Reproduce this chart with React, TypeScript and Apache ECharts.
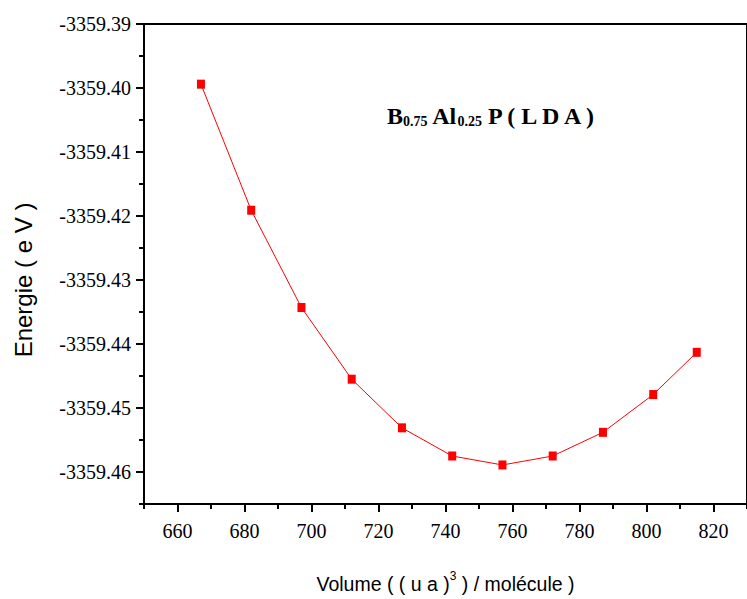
import React, { useEffect, useRef } from 'react';
import * as echarts from 'echarts';

const volumes = [667, 682, 697, 712, 727, 742, 757, 772, 787, 802, 815];
const energies = [
  -3359.3994, -3359.4191, -3359.4343, -3359.4455, -3359.4531, -3359.4575,
  -3359.4589, -3359.4575, -3359.4538, -3359.4479, -3359.4413,
];
const xMajorTicks = [660, 680, 700, 720, 740, 760, 780, 800, 820];
const xMinorTicks = [650, 670, 690, 710, 730, 750, 770, 790, 810, 830];
const yMajorTicks = [-3359.39, -3359.4, -3359.41, -3359.42, -3359.43, -3359.44, -3359.45, -3359.46];
const yMinorTicks = [-3359.395, -3359.405, -3359.415, -3359.425, -3359.435, -3359.445, -3359.455, -3359.465];
const xRange = [650, 830];
const yRange = [-3359.465, -3359.39];
const yTitle = 'Energie ( e V )';

const SERIF = 'Liberation Serif';
const SANS = 'Liberation Sans';

export default function App() {
  const ref = useRef<HTMLDivElement>(null);
  useEffect(() => {
    document.body.style.margin = '0';
    const chart = echarts.init(ref.current!, undefined, { renderer: 'svg' });
    const baseX = {
      type: 'value' as const,
      min: xRange[0],
      max: xRange[1],
      position: 'bottom' as const,
      splitLine: { show: false },
    };
    const baseY = {
      type: 'value' as const,
      min: yRange[0],
      max: yRange[1],
      position: 'left' as const,
      splitLine: { show: false },
    };
    const tickRich = {
      t: { fontFamily: SERIF, fontSize: 20, color: '#000' },
    };
    chart.setOption({
      animation: false,
      backgroundColor: '#fff',
      textStyle: { fontFamily: SERIF },
      grid: {
        left: 144,
        top: 24,
        right: -9,
        bottom: 93,
        show: true,
        borderColor: '#000',
        borderWidth: 2,
        containLabel: false,
      },
      xAxis: [
        {
          ...baseX,
          name: '{a|Volume ( ( u a )}{sup|3}{a| ) / molécule )}',
          nameLocation: 'middle',
          nameGap: 66,
          nameTextStyle: {
            rich: {
              a: { fontFamily: SANS, fontSize: 19.5, color: '#000', lineHeight: 24, verticalAlign: 'bottom' },
              sup: { fontFamily: SANS, fontSize: 12, color: '#000', lineHeight: 12, verticalAlign: 'top' },
            },
          },
          axisLine: { show: true, lineStyle: { color: '#000', width: 2 } },
          axisTick: { show: true, customValues: xMajorTicks, length: 8, lineStyle: { color: '#000', width: 2 } },
          axisLabel: {
            show: true,
            customValues: xMajorTicks,
            margin: 17,
            fontFamily: SERIF,
            fontSize: 20,
            color: '#000',
            formatter: (v: number) => '{t|' + String(Math.round(v)) + '}',
            rich: tickRich,
          },
        },
        {
          ...baseX,
          axisLine: { show: false },
          axisTick: { show: true, customValues: xMinorTicks, length: 5, lineStyle: { color: '#000', width: 2 } },
          axisLabel: { show: false },
        },
      ],
      yAxis: [
        {
          ...baseY,
          axisLine: { show: true, lineStyle: { color: '#000', width: 2 } },
          axisTick: { show: true, customValues: yMajorTicks, length: 8, lineStyle: { color: '#000', width: 2 } },
          axisLabel: {
            show: true,
            customValues: yMajorTicks,
            margin: 13,
            fontFamily: SERIF,
            fontSize: 20,
            color: '#000',
            formatter: (v: number) => '{t|' + v.toFixed(2) + '}',
            rich: tickRich,
          },
        },
        {
          ...baseY,
          axisLine: { show: false },
          axisTick: { show: true, customValues: yMinorTicks, length: 5, lineStyle: { color: '#000', width: 2 } },
          axisLabel: { show: false },
        },
      ],
      graphic: [
        {
          type: 'text',
          left: 387,
          top: 97,
          style: {
            text: '{m|B}{s|0.75}{m| Al}{s|0.25}{m| P ( L D A )}',
            rich: {
              m: { fontFamily: SERIF, fontWeight: 'bold', fontSize: 24, lineHeight: 24, verticalAlign: 'top', fill: '#000' },
              s: { fontFamily: SERIF, fontWeight: 'bold', fontSize: 14, lineHeight: 14, padding: [17, 0, 0, 0], verticalAlign: 'bottom', fill: '#000' },
            },
          },
        },
        {
          type: 'text',
          x: 23,
          y: 280,
          rotation: Math.PI / 2,
          style: {
            text: yTitle,
            fontFamily: SANS,
            fontSize: 24,
            fill: '#000',
            align: 'center',
            verticalAlign: 'middle',
          },
        },
      ],
      series: [
        {
          type: 'line',
          xAxisIndex: 0,
          yAxisIndex: 0,
          data: volumes.map((v, i) => [v, energies[i]]),
          symbol: 'rect',
          symbolSize: [8, 9],
          lineStyle: { color: '#ff0000', width: 1 },
          itemStyle: { color: '#ff0000' },
          clip: false,
        },
      ],
    });
    return () => chart.dispose();
  }, []);
  return <div ref={ref} style={{ width: 747, height: 599 }} />;
}
